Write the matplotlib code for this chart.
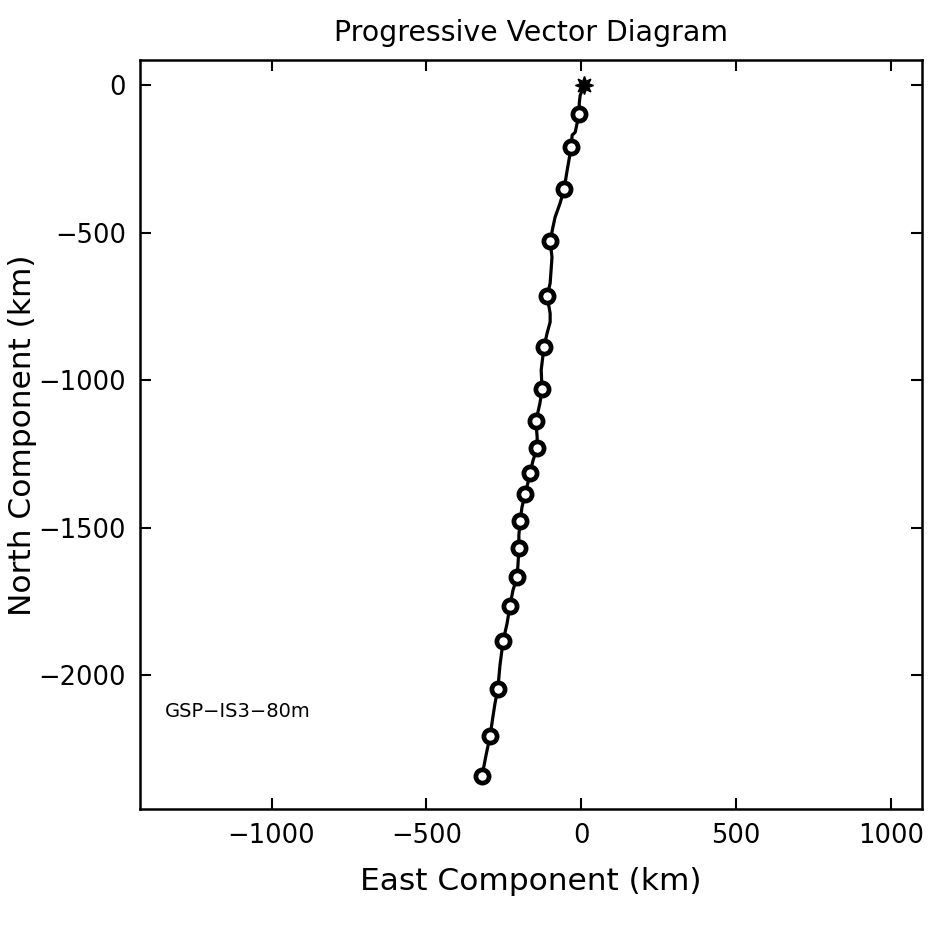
import matplotlib
matplotlib.use("Agg")
import matplotlib.pyplot as plt

# progressive vector track (km)
track_east = [10, -3, -6, -6, -13, -19, -29, -32, -45, -55, -68, -84, -91, -100,
              -94, -97, -100, -110, -100, -100, -110, -120, -129, -126, -133, -146,
              -142, -142, -155, -165, -172, -181, -191, -197, -201, -201, -204,
              -207, -220, -230, -239, -252, -262, -269, -278, -285, -294, -307, -320]
track_north = [0, -34, -61, -98, -129, -159, -169, -210, -288, -353, -400, -447,
               -481, -529, -583, -627, -671, -715, -773, -803, -841, -888, -966,
               -1031, -1078, -1139, -1193, -1231, -1271, -1315, -1349, -1386,
               -1431, -1478, -1525, -1569, -1627, -1668, -1712, -1766, -1824,
               -1885, -1966, -2047, -2095, -2142, -2207, -2271, -2342]

# circle markers along the track
mark_east = [-6, -32, -55, -100, -110, -120, -126, -146, -142, -165, -181, -197,
             -201, -207, -230, -252, -269, -294, -320]
mark_north = [-98, -210, -353, -529, -715, -888, -1031, -1139, -1231, -1315,
              -1386, -1478, -1569, -1668, -1766, -1885, -2047, -2207, -2342]

start_east, start_north = 10, 0
station = "GSP\u2212IS3\u221280m"

plt.rcParams.update({'font.size': 18.5, 'font.family': 'DejaVu Sans',
                     'axes.unicode_minus': True})

fig = plt.figure(figsize=(9.3, 9.27), dpi=100)
ax = fig.add_axes([0.1505, 0.127, 0.8405, 0.808])

ax.plot(track_east, track_north, color='black', linewidth=2.3, zorder=2)
ax.plot(mark_east, mark_north, linestyle='none', marker='o', markersize=9.5,
        markerfacecolor='white', markeredgecolor='black', markeredgewidth=3.4, zorder=3)
ax.plot([start_east], [start_north], linestyle='none', marker=(8, 1, 0), markersize=13,
        color='black', zorder=4)

ax.set_xlim(-1425, 1100)
ax.set_ylim(-2455, 85)
ax.set_xticks([-1000, -500, 0, 500, 1000])
ax.set_yticks([0, -500, -1000, -1500, -2000])
ax.tick_params(direction='in', length=8, width=1.5, top=True, right=True, pad=10)
for s in ax.spines.values():
    s.set_linewidth(1.8)

ax.text(-1345, -2125, station, ha='left', va='center', fontsize=14)

ax.set_xlabel("East Component (km)", fontsize=22.5, labelpad=13)
ax.set_ylabel("North Component (km)", fontsize=22.5, labelpad=1)
ax.set_title("Progressive Vector Diagram", fontsize=20.4, pad=14)

fig.savefig("out.png", dpi=100, facecolor='white')
